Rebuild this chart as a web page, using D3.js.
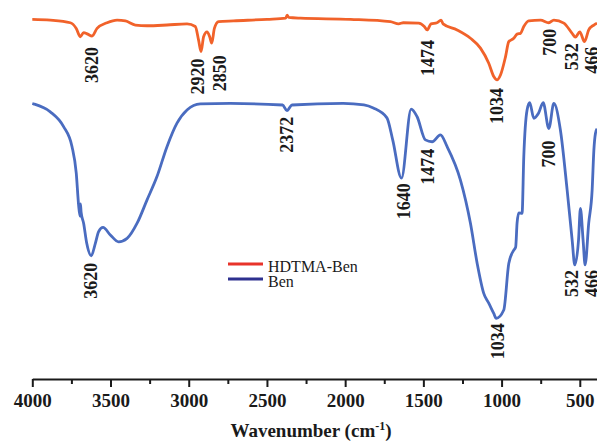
<!DOCTYPE html>
<meta charset="utf-8">
<title>FTIR spectra</title>
<style>

    body {
        margin: 0;
        background: #fff;
    }

    text {
        font-family: "Liberation Serif", "Times New Roman", serif;
        fill: #1a1a1a;
    }

    .curve {
        fill: none;
        stroke-width: 2.8px;
        stroke-linejoin: round;
    }

</style>
<body>
<script src="https://cdn.jsdelivr.net/npm/d3@7"></script>
<script>

    // HDTMA-Ben spectrum (wavenumber, transmittance)
    var wnHdtma = [4000, 3885, 3757, 3719, 3693, 3672, 3646, 3618, 3586, 3522, 3458, 3405, 3341, 3267, 3139,
        3011, 2958, 2937, 2921, 2905, 2883, 2866, 2853, 2836, 2809, 2713, 2499, 2380, 2371, 2360, 2286,
        1966, 1711, 1658, 1628, 1530, 1494, 1476, 1451, 1413, 1387, 1374, 1284, 1199, 1135, 1082, 1050,
        1029, 1007, 975, 954, 922, 901, 879, 858, 826, 751, 698, 666, 602, 549, 528, 500, 470, 443, 410, 390];
    var tHdtma = [94.9, 94.7, 94.0, 92.5, 90.3, 91.4, 91.0, 90.5, 92.5, 94.0, 94.7, 94.5, 93.4, 93.2, 93.4,
        93.7, 93.0, 89.4, 86.4, 90.3, 91.6, 90.3, 88.6, 92.5, 94.3, 94.5, 94.9, 95.2, 96.0, 95.4, 95.2,
        94.9, 94.3, 93.7, 94.0, 93.9, 93.0, 92.1, 93.7, 94.0, 94.7, 93.7, 92.1, 89.9, 87.3, 83.3, 79.8,
        78.9, 80.2, 85.0, 89.0, 89.9, 91.0, 91.2, 93.0, 94.5, 94.7, 94.0, 94.7, 93.9, 91.2, 90.2, 91.6, 89.0, 92.1, 93.4, 93.9];

    // Ben spectrum
    var wnBen = [4000, 3992, 3885, 3800, 3746, 3719, 3704, 3695, 3692, 3688, 3672, 3652, 3623, 3597, 3576,
        3548, 3501, 3448, 3394, 3330, 3267, 3203, 3139, 3075, 3011, 2926, 2734, 2400, 2372, 2340, 2013,
        1880, 1820, 1733, 1696, 1640, 1578, 1540, 1487, 1444, 1391, 1348, 1263, 1199, 1156, 1114, 1082,
        1050, 1034, 986, 954, 922, 910, 901, 890, 869, 858, 837, 820, 794, 764, 734, 698, 666, 624, 581,
        549, 532, 508, 496, 479, 466, 443, 421, 410, 400, 390];
    var tBen = [72.7, 72.6, 70.5, 66.6, 61.3, 54.3, 45.9, 43.0, 46.2, 44.0, 41.1, 35.8, 32.5, 35.8, 38.9,
        40.0, 38.0, 36.2, 37.1, 41.1, 47.2, 53.4, 61.3, 67.5, 71.0, 72.6, 72.7, 72.3, 70.8, 72.3, 72.7,
        72.3, 71.5, 68.9, 63.1, 53.0, 71.2, 69.2, 63.1, 62.6, 64.4, 61.3, 52.5, 41.1, 30.5, 22.6, 20.0,
        17.3, 16.0, 18.2, 30.5, 34.0, 34.8, 41.1, 43.8, 43.7, 58.7, 71.0, 72.9, 68.8, 70.1, 72.9, 66.1, 72.7, 65.7, 49.9,
        36.7, 30.1, 36.7, 45.0, 36.7, 30.1, 41.1, 49.9, 60.4, 64.8, 66.0];

    // peak labels
    var peaksHdtma = [3620, 2920, 2850, 1474, 1034, 700, 532, 466];
    var peaksBen = [3620, 2372, 1640, 1474, 1034, 700, 532, 466];

    var majorTicks = [4000, 3500, 3000, 2500, 2000, 1500, 1000, 500];
    var minorTicks = [3750, 3250, 2750, 2250, 1750, 1250, 750];

    var seriesNames = ["HDTMA-Ben", "Ben"];

    var w = 597,
        h = 443,
        axisY = 379;

    // label nudges [dx, gap below curve]
    var nudgeHdtma = {3620: [0, 11], 2920: [-4, 7], 2850: [7, 12], 1474: [0, 10], 1034: [0, 8], 700: [1, 6], 532: [-3, 6], 466: [7, 5]};
    var nudgeBen = {3620: [-1, 7], 2372: [0, 6], 1640: [2, 5], 1474: [0, 9], 1034: [1, 5], 700: [0, 12], 532: [-3, 5], 466: [7, 5]};

    var x = d3.scaleLinear().domain([4000, 390]).range([32.3, 597]);
    var y = d3.scaleLinear().domain([0, 100]).range([axisY, 0]);

    var svg = d3.select("body").append("svg")
        .attr("width", w)
        .attr("height", h);

    var line = d3.line()
        .x(function(d) { return x(d[0]); })
        .y(function(d) { return y(d[1]); })
        .curve(d3.curveMonotoneX);

    function pairs(wn, t) {
        return wn.map(function(v, i) { return [v, t[i]]; });
    }

    var hdtma = pairs(wnHdtma, tHdtma),
        ben = pairs(wnBen, tBen);

    svg.append("path").attr("class", "curve").attr("d", line(ben)).attr("stroke", "#4a6cc0");
    svg.append("path").attr("class", "curve").attr("d", line(hdtma)).attr("stroke", "#f1622a");

    // nearest curve value at a wavenumber
    function valueAt(data, wn) {
        var best = data[0];
        data.forEach(function(d) { if (Math.abs(d[0] - wn) < Math.abs(best[0] - wn)) best = d; });
        return best[1];
    }

    function labels(data, peaks, nudge) {
        svg.append("g").selectAll("text")
            .data(peaks)
            .enter().append("text")
            .attr("transform", function(d) {
                return "translate(" + (x(d) + nudge[d][0]) + "," + (y(valueAt(data, d)) + nudge[d][1]) + ")rotate(-90)";
            })
            .attr("text-anchor", "end")
            .attr("dy", "0.35em")
            .style("font-size", "18px")
            .style("font-weight", "bold")
            .text(function(d) { return d; });
    }

    labels(hdtma, peaksHdtma, nudgeHdtma);
    labels(ben, peaksBen, nudgeBen);

    // x axis
    var gx = svg.append("g").attr("transform", "translate(0," + axisY + ")");
    gx.call(d3.axisBottom(x).tickValues(majorTicks).tickFormat(d3.format("d"))
        .tickSize(8).tickSizeOuter(0).tickPadding(7));
    gx.append("g").call(d3.axisBottom(x).tickValues(minorTicks).tickSize(5).tickFormat(""))
        .select(".domain").remove();
    gx.selectAll("path, line").attr("stroke", "#1a1a1a").attr("stroke-width", 2);
    gx.selectAll("text")
        .style("font-size", "19px")
        .style("font-weight", "bold")
        .style("font-family", "Liberation Serif")
        .attr("fill", "#1a1a1a");

    var title = svg.append("text")
        .attr("x", 311)
        .attr("y", 437)
        .attr("text-anchor", "middle")
        .style("font-size", "19px")
        .style("font-weight", "bold");
    title.append("tspan").text("Wavenumber (cm");
    title.append("tspan").attr("dy", -7).style("font-size", "12px").text("-1");
    title.append("tspan").attr("dy", 7).text(")");

    // legend
    var legendColors = ["#e8332a", "#2e318f"];
    var legend = svg.append("g").selectAll("g")
        .data(seriesNames)
        .enter().append("g")
        .attr("transform", function(d, i) { return "translate(228," + (264 + i * 15) + ")"; });
    legend.append("line")
        .attr("x2", 35)
        .attr("stroke", function(d, i) { return legendColors[i]; })
        .attr("stroke-width", 3);
    legend.append("text")
        .attr("x", 40)
        .attr("y", 8)
        .style("font-size", "16px")
        .text(function(d) { return d; });

</script>
